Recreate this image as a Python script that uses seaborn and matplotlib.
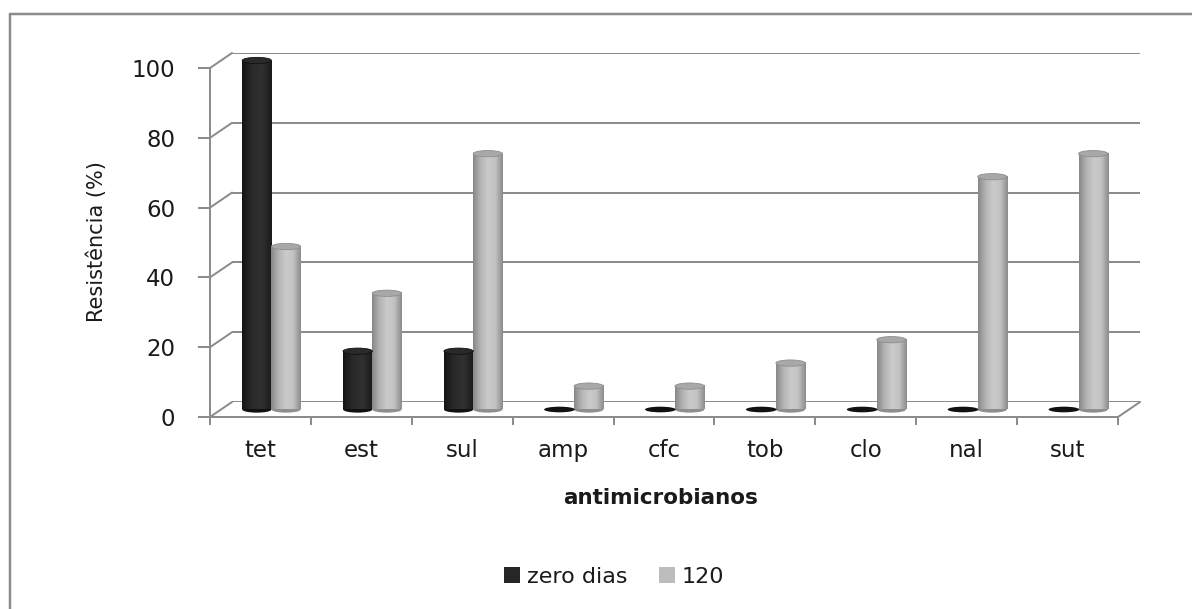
## Resistance of isolates to antimicrobials, 0 vs 120 days (Excel-like 3D cylinder chart)
import numpy as np
import pandas as pd
import matplotlib
matplotlib.use("Agg")
import matplotlib.pyplot as plt
from matplotlib.colors import LinearSegmentedColormap
from matplotlib.patches import Ellipse, Rectangle
from matplotlib.lines import Line2D
import seaborn as sns

## data
categories = ["tet", "est", "sul", "amp", "cfc", "tob", "clo", "nal", "sut"]
zero_dias = [100, 16.7, 16.7, 0, 0, 0, 0, 0, 0]
dias_120 = [46.7, 33.3, 73.3, 6.7, 6.7, 13.3, 20, 66.7, 73.3]
series_names = ["zero dias", "120"]
y_ticks = [0, 20, 40, 60, 80, 100]

df = pd.DataFrame({
    "antimicrobianos": categories * 2,
    "serie": [series_names[0]] * len(categories) + [series_names[1]] * len(categories),
    "resist": zero_dias + dias_120,
})

sns.set_theme(style="white")
plt.rcParams["font.family"] = ["DejaVu Sans"]

W, H = 1192, 609
PT = 0.72  # points per pixel at dpi 100
fig = plt.figure(figsize=(W / 100, H / 100), dpi=100)
fig.patch.set_facecolor("white")

## the plane where the cylinders stand (middle of the depth)
x0, y0, pw, ph = 221, 409.5, 908, 349
off_x, off_y = 11, 7.5   # half depth, pixels
grid_col = "#8c8c8c"
txt_col = "#1a1a1a"


def rect(dx, dy):
    return [(x0 + dx) / W, 1 - (y0 + dy) / H, pw / W, ph / H]


ax_back = fig.add_axes(rect(off_x, -off_y), zorder=1)
ax_front = fig.add_axes(rect(-off_x, off_y), zorder=2)
ax = fig.add_axes(rect(0, 0), zorder=3)

for a in (ax_back, ax_front, ax):
    a.set_xlim(-0.5, 8.5)
    a.set_ylim(0, 100)
    a.patch.set_alpha(0)
    for s in a.spines.values():
        s.set_visible(False)

## back wall: gridlines
ax_back.set_yticks(y_ticks)
ax_back.set_xticks([])
ax_back.tick_params(left=False, labelleft=False)
ax_back.grid(axis="y", color=grid_col, lw=2 * PT)

## front axes: value axis and category axis
for s in ("left", "bottom"):
    ax_front.spines[s].set_visible(True)
    ax_front.spines[s].set_color(grid_col)
    ax_front.spines[s].set_linewidth(2 * PT)
ax_front.set_yticks(y_ticks)
ax_front.set_xticks(range(len(categories)))
ax_front.set_xticklabels(categories)
ax_front.set_xticks(np.arange(-0.5, len(categories), 1), minor=True)
ax_front.tick_params(axis="y", left=True, length=12 * PT, width=2 * PT, color=grid_col,
                     labelsize=16.5, labelcolor=txt_col, pad=23 * PT)
ax_front.tick_params(axis="x", which="major", bottom=True, length=0,
                     labelsize=16.5, labelcolor=txt_col, pad=22 * PT)
ax_front.tick_params(axis="x", which="minor", bottom=True, length=8 * PT, width=2 * PT,
                     color=grid_col)

## slanted edges joining front and back (left wall and floor)
dx = off_x / (pw / 9)
dy = off_y / (ph / 100)
for v in y_ticks:
    ax.plot([-0.5 - dx, -0.5 + dx], [v - dy, v + dy], color=grid_col, lw=2 * PT,
            clip_on=False, zorder=1)
ax.plot([8.5 - dx, 8.5 + dx], [-dy, dy], color=grid_col, lw=2 * PT, clip_on=False, zorder=1)

## bars through seaborn
sns.barplot(data=df, x="antimicrobianos", y="resist", hue="serie",
            palette=["#262626", "#bdbdbd"], saturation=1, width=0.58,
            errorbar=None, legend=False, ax=ax, zorder=3)
ax.set_xlabel("")
ax.set_ylabel("")
ax.set_xticks([])
ax.set_yticks([])

## turn the flat bars into shaded cylinders
cmaps = [
    LinearSegmentedColormap.from_list("dk", ["#141414", "#2a2a2a", "#303030", "#1a1a1a"]),
    LinearSegmentedColormap.from_list("lt", ["#888888", "#b4b4b4", "#cacaca", "#c2c2c2", "#8c8c8c"]),
]
tops = ["#2a2a2a", "#a8a8a8"]
rims = ["#111111", "#8e8e8e"]
eh = 1.8
grad = np.linspace(0, 1, 64).reshape(1, -1)

for i, cont in enumerate(ax.containers):
    for p in cont.patches:
        x, w, h = p.get_x(), p.get_width(), p.get_height()
        p.set_facecolor("none")
        p.set_edgecolor("none")
        cx = x + w / 2
        if h > 0:
            ax.add_patch(Ellipse((cx, 0), w, eh, facecolor=rims[i], edgecolor="none",
                                 zorder=3, clip_on=False))
            ax.imshow(grad, cmap=cmaps[i], extent=[x, x + w, 0, h], aspect="auto",
                      zorder=3.5, interpolation="bilinear")
            ax.add_patch(Ellipse((cx, h), w, eh, facecolor=tops[i], edgecolor=rims[i],
                                 lw=0.6, zorder=4, clip_on=False))
        else:
            ax.add_patch(Ellipse((cx, 0), w * 1.05, eh * 0.9, facecolor="#111111",
                                 edgecolor="none", zorder=4, clip_on=False))
ax.set_xlim(-0.5, 8.5)
ax.set_ylim(0, 100)

## titles
fig.text(97 / W, 1 - 242 / H, "Resistência (%)", rotation=90, ha="center", va="center",
         fontsize=15, color=txt_col)
fig.text(661 / W, 1 - 498 / H, "antimicrobianos", ha="center", va="center",
         fontsize=15.5, fontweight="bold", color=txt_col)

## legend
handles = [Rectangle((0, 0), 1, 1, facecolor=c, edgecolor="none") for c in ["#262626", "#bdbdbd"]]
fig.legend(handles, series_names, loc="center", bbox_to_anchor=(614 / W, 1 - 577 / H),
           ncol=2, frameon=False, fontsize=16, handlelength=0.75, handleheight=0.75,
           handletextpad=0.3, columnspacing=1.4, labelcolor=txt_col)

## outer chart border (top and left only visible)
fig.add_artist(Line2D([10 / W, 10 / W], [0, 1 - 14 / H], color=grid_col, lw=2.5 * PT))
fig.add_artist(Line2D([10 / W, 1], [1 - 14 / H, 1 - 14 / H], color=grid_col, lw=2.5 * PT))

fig.savefig("out.png", dpi=100)
